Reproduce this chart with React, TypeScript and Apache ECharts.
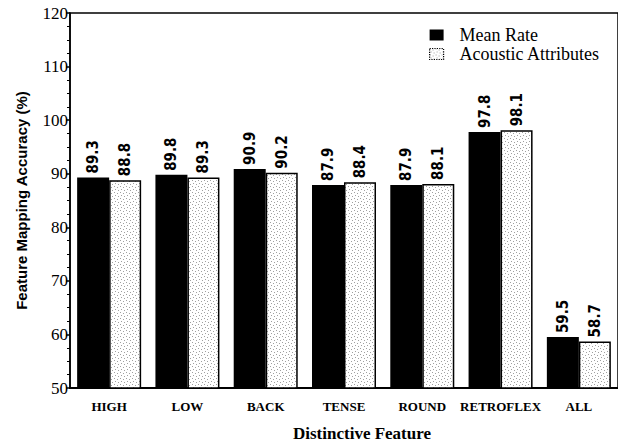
import React, { useEffect, useRef } from "react";
import * as echarts from "echarts";

const categories = ["HIGH", "LOW", "BACK", "TENSE", "ROUND", "RETROFLEX", "ALL"];
const meanRate = [89.3, 89.8, 90.9, 87.9, 87.9, 97.8, 59.5];
const acousticAttributes = [88.8, 89.3, 90.2, 88.4, 88.1, 98.1, 58.7];
const seriesNames = ["Mean Rate", "Acoustic Attributes"];
const yTicks = { min: 50, max: 120, interval: 10 };

function makeStipple(): any {
  const c = document.createElement("canvas");
  c.width = 6;
  c.height = 6;
  const ctx = c.getContext("2d");
  if (!ctx) return "#ececec";
  ctx.fillStyle = "#ffffff";
  ctx.fillRect(0, 0, 6, 6);
  ctx.fillStyle = "#a0a0a0";
  const dots = [
    [0, 0],
    [3, 1],
    [1, 3],
    [4, 4],
  ];
  dots.forEach(([x, y]) => ctx.fillRect(x, y, 1, 1));
  return { image: c, repeat: "repeat" };
}

export default function App() {
  const ref = useRef<HTMLDivElement>(null);
  useEffect(() => {
    if (!ref.current) return;
    const chart = echarts.init(ref.current, undefined, { renderer: "svg" });
    const stipple = makeStipple();
    const labelStyle = {
      show: true,
      position: "top",
      rotate: 90,
      align: "left",
      verticalAlign: "middle",
      distance: 4,
      color: "#000",
      fontFamily: "DejaVu Sans Condensed, DejaVu Sans, sans-serif",
      fontWeight: "bold",
      fontSize: 15,
      formatter: (p: any) => p.value.toFixed(1),
    };
    chart.setOption({
      animation: false,
      backgroundColor: "#fff",
      grid: {
        left: 70,
        top: 13,
        width: 555,
        height: 375,
        show: true,
        borderColor: "#000",
        borderWidth: 1.5,
        backgroundColor: "transparent",
      },
      legend: {
        orient: "vertical",
        left: 429,
        top: 26,
        itemGap: 1,
        itemWidth: 14,
        itemHeight: 11,
        padding: 0,
        textStyle: {
          fontFamily: "Liberation Serif, serif",
          fontSize: 18,
          lineHeight: 16,
          color: "#000",
          padding: [0, 0, 0, 11],
        },
        data: [
          { name: seriesNames[0], icon: "rect", itemStyle: { color: "#000" } },
          {
            name: seriesNames[1],
            icon: "rect",
            itemStyle: { color: stipple, borderColor: "#000", borderWidth: 1.2, borderType: "dotted" },
          },
        ],
      },
      xAxis: {
        type: "category",
        data: categories,
        axisLine: { lineStyle: { color: "#000", width: 2 } },
        axisTick: { show: false },
        axisLabel: {
          interval: 0,
          color: "#000",
          fontFamily: "Liberation Serif, serif",
          fontWeight: "bold",
          fontSize: 13,
          margin: 12,
        },
      },
      yAxis: {
        type: "value",
        min: yTicks.min,
        max: yTicks.max,
        interval: yTicks.interval,
        name: "Feature Mapping Accuracy (%)",
        nameLocation: "middle",
        nameGap: 41,
        nameTextStyle: {
          color: "#000",
          fontFamily: "Liberation Sans, Arial, sans-serif",
          fontWeight: "bold",
          fontSize: 15,
        },
        axisLine: { show: true, lineStyle: { color: "#000", width: 1.5 } },
        axisTick: { show: true, length: 4, lineStyle: { color: "#000", width: 1.5 } },
        minorTick: { show: true, splitNumber: 4, length: 3, lineStyle: { color: "#000", width: 1 } },
        splitLine: { show: false },
        axisLabel: {
          color: "#000",
          fontFamily: "Liberation Serif, serif",
          fontSize: 17,
          margin: 2,
        },
      },
      series: [
        {
          name: seriesNames[0],
          type: "bar",
          data: meanRate,
          barWidth: 32,
          barGap: "0%",
          itemStyle: { color: "#000" },
          label: labelStyle,
        },
        {
          name: seriesNames[1],
          type: "bar",
          data: acousticAttributes,
          barWidth: 32,
          barGap: "0%",
          itemStyle: { color: stipple, borderColor: "#000", borderWidth: 1.5 },
          label: labelStyle,
        },
      ],
      graphic: [
        {
          type: "text",
          x: 362,
          y: 433,
          style: {
            text: "Distinctive Feature",
            fill: "#000",
            font: "bold 17px 'Liberation Serif', serif",
            align: "center",
            verticalAlign: "middle",
          },
        },
      ],
    });
    return () => chart.dispose();
  }, []);
  return (
    <div
      ref={ref}
      style={{ position: "fixed", left: 0, top: 0, width: 618, height: 443 }}
    />
  );
}
